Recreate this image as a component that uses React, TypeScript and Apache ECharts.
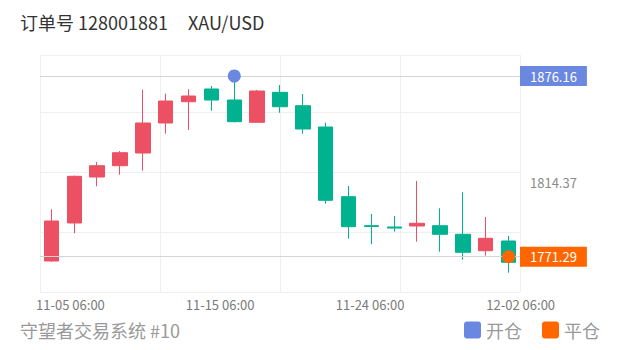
import React, { useEffect, useRef } from "react";
import * as echarts from "echarts";

const categories = [
  "11-05 06:00", "11-08 06:00", "11-09 06:00", "11-10 06:00", "11-11 06:00",
  "11-12 06:00", "11-15 06:00", "11-16 06:00", "11-17 06:00", "11-18 06:00",
  "11-19 06:00", "11-22 06:00", "11-23 06:00", "11-24 06:00", "11-25 06:00",
  "11-26 06:00", "11-29 06:00", "11-30 06:00", "12-01 06:00", "12-02 06:00",
  "12-03 06:00",
];
const opens = [1768.8, 1790.85, 1817.54, 1824.1, 1831.47, 1848.88, 1861.24, 1868.62, 1862.23, 1849.29, 1866.7, 1858.92, 1846.56, 1806.11, 1789.3, 1788.5, 1789.11, 1789.28, 1784.29, 1774.77, 1780.4];
const closes = [1792.01, 1817.95, 1824.1, 1831.65, 1848.88, 1861.65, 1864.55, 1862.23, 1849.64, 1867.45, 1858.34, 1845.4, 1804.02, 1788.7, 1788.8, 1787.9, 1790.67, 1784.29, 1773.84, 1781.97, 1768.04];
const lows = [1768.3, 1784.87, 1812.15, 1818.88, 1821.2, 1842.67, 1844.82, 1856.02, 1849.29, 1849.0, 1854.86, 1842.67, 1802.05, 1781.74, 1778.49, 1785.8, 1780.0, 1774.19, 1769.55, 1771.87, 1762.01];
const highs = [1798.8, 1818.4, 1826.25, 1832.63, 1868.21, 1865.89, 1868.44, 1870.36, 1876.16, 1868.04, 1870.94, 1865.71, 1849.06, 1812.32, 1796.07, 1794.91, 1815.22, 1799.38, 1808.66, 1794.33, 1783.3];

const openIndex = 8;
const openPrice = 1876.16;
const closeIndex = 20;
const closePrice = 1771.29;
const midPrice = 1814.37;
const shownLabelIdx = [0, 6, 13, 19];
const labelShift: Record<number, number> = { 0: 38, 6: 63, 13: 43, 19: 70 };

const FONT = "'Noto Sans CJK SC', 'Noto Sans', sans-serif";
const RED = "#ec5063";
const GREEN = "#00b290";
const BLUE = "#6b88e0";
const ORANGE = "#ff6600";
const ICON = "path://M3,0H14A3,3,0,0,1,17,3V14A3,3,0,0,1,14,17H3A3,3,0,0,1,0,14V3A3,3,0,0,1,3,0Z";

export default function App() {
  const ref = useRef<HTMLDivElement>(null);
  useEffect(() => {
    document.body.style.margin = "0";
    if (!ref.current) return;
    const chart = echarts.init(ref.current, null, { renderer: "svg" });
    const kdata = categories.map((_, i) => [opens[i], closes[i], lows[i], highs[i]]);
    const rich: Record<string, any> = {};
    shownLabelIdx.forEach((i) => {
      rich["a" + i] = { padding: [0, 0, 0, labelShift[i]], fontSize: 13, color: "#7a7a7a", fontFamily: FONT };
    });
    const badge = (bg: string | null) => ({
      show: true,
      position: "end",
      distance: 0,
      formatter: (p: any) => Number(p.value).toFixed(2),
      backgroundColor: bg || "transparent",
      color: bg ? "#fff" : "#8a8a8a",
      fontSize: 13,
      lineHeight: 12,
      padding: [4, 10],
      fontFamily: FONT,
    });
    chart.setOption({
      animation: false,
      textStyle: { fontFamily: FONT },
      title: [
        { text: "订单号 128001881", left: 20, top: 13, padding: 0, textStyle: { fontSize: 18, fontWeight: "normal", color: "#333", fontFamily: FONT } },
        { text: "XAU/USD", left: 188, top: 13, padding: 0, textStyle: { fontSize: 18, fontWeight: "normal", color: "#333", fontFamily: FONT } },
        { text: "守望者交易系统 #10", left: 20, top: 321, padding: 0, textStyle: { fontSize: 18, fontWeight: "normal", color: "#999", fontFamily: FONT } },
      ],
      legend: {
        data: [
          { name: "开仓", icon: ICON },
          { name: "平仓", icon: ICON },
        ],
        right: 20,
        top: 321,
        padding: 0,
        itemWidth: 17,
        itemHeight: 17,
        itemGap: 20,
        textStyle: { fontSize: 18, color: "#999", fontFamily: FONT },
      },
      grid: { left: 40, right: 100, top: 55, bottom: 58 },
      xAxis: [
        {
          type: "category",
          data: categories,
          boundaryGap: true,
          axisLine: { show: false },
          axisTick: { show: false },
          splitLine: { show: false },
          axisLabel: {
            interval: (index: number) => shownLabelIdx.includes(index),
            formatter: (value: string, index: number) => `{a${index}|${value}}`,
            rich,
            margin: 6,
            fontSize: 13,
            color: "#7a7a7a",
          },
        },
        {
          type: "value",
          min: 0,
          max: 4,
          interval: 1,
          position: "top",
          axisLine: { show: false },
          axisTick: { show: false },
          axisLabel: { show: false },
          splitLine: { show: true, lineStyle: { color: "#efefef", width: 1 } },
        },
      ],
      yAxis: [
        {
          type: "value",
          min: 1750.8,
          max: 1888.35,
          position: "right",
          axisLine: { show: false },
          axisTick: { show: false },
          axisLabel: { show: false },
          splitLine: { show: false },
        },
        {
          type: "value",
          min: 0,
          max: 3.95,
          interval: 1,
          position: "left",
          axisLine: { show: false },
          axisTick: { show: false },
          axisLabel: { show: false },
          splitLine: { show: true, lineStyle: { color: "#efefef", width: 1 } },
        },
      ],
      series: [
        {
          name: "K线",
          type: "candlestick",
          xAxisIndex: 0,
          yAxisIndex: 0,
          data: kdata,
          barWidth: 15,
          itemStyle: {
            color: RED,
            color0: GREEN,
            borderColor: RED,
            borderColor0: GREEN,
            borderWidth: 1,
          },
          markLine: {
            silent: true,
            symbol: "none",
            data: [
              { yAxis: openPrice, lineStyle: { color: "#d4d4d4", width: 1, type: "solid" }, label: badge(BLUE) },
              { yAxis: closePrice, lineStyle: { color: "#d4d4d4", width: 1, type: "solid" }, label: badge(ORANGE) },
              { yAxis: midPrice, lineStyle: { color: "rgba(0,0,0,0)", width: 1, type: "solid" }, label: badge(null) },
            ],
          },
        },
        {
          name: "开仓",
          type: "scatter",
          xAxisIndex: 0,
          yAxisIndex: 0,
          symbolSize: 13,
          itemStyle: { color: BLUE, opacity: 1 },
          data: [[openIndex, openPrice]],
          z: 5,
        },
        {
          name: "平仓",
          type: "scatter",
          xAxisIndex: 0,
          yAxisIndex: 0,
          symbolSize: 13,
          itemStyle: { color: ORANGE, opacity: 1 },
          data: [[closeIndex, closePrice]],
          z: 5,
        },
      ],
    });
    return () => chart.dispose();
  }, []);
  return <div ref={ref} style={{ width: 620, height: 350 }} />;
}
